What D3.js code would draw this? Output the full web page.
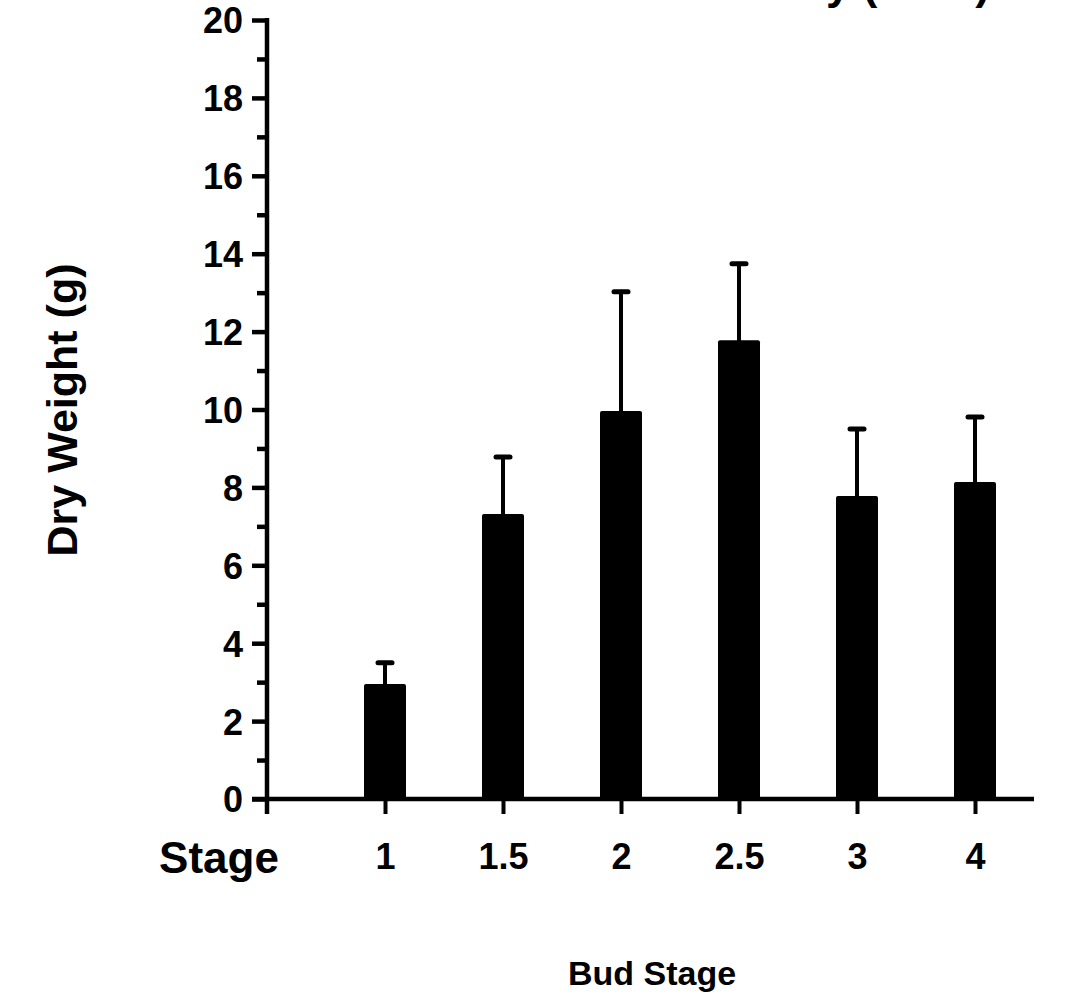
<!DOCTYPE html>
<html>
<head>
<meta charset="utf-8">
<script src="https://cdn.jsdelivr.net/npm/d3@7"></script>
<style>
  body { margin: 0; background: #fff; }
  svg text { font-family: "Liberation Sans", Arial, sans-serif; font-weight: bold; fill: #000; }
</style>
</head>
<body>
<div id="chart"></div>
<script>
// data
const stages = ["1", "1.5", "2", "2.5", "3", "4"];
const dryWeight = [2.95, 7.32, 9.96, 11.78, 7.78, 8.14];
const errUpper = [0.55, 1.46, 3.06, 1.96, 1.72, 1.67];
const yTicks = [0, 2, 4, 6, 8, 10, 12, 14, 16, 18, 20];
const yMinor = [1, 3, 5, 7, 9, 11, 13, 15, 17, 19];

function draw() {
    let width = 1070, height = 992;
    let left = 267, right = 1034, top = 20, bottom = 799;

    let svg = d3.select("#chart")
        .append("svg")
        .attr("width", width)
        .attr("height", height)
        .style("background", "#fff");

    // title is cut off by the top edge, only descenders show
    svg.append("text")
        .attr("x", 990)
        .attr("y", -1)
        .attr("text-anchor", "end")
        .style("font-size", "44px")
        .text("Bud Mass at Maturity (2019)");

    let y = d3.scaleLinear().domain([0, 20]).range([bottom, top]);

    let step = (right - left) / 6.5;
    let x = d3.scalePoint()
        .domain(stages)
        .range([left + step, left + 6 * step]);

    let data = stages.map((s, i) => ({ stage: s, v: dryWeight[i], e: errUpper[i] }));

    // error bars (upper only), drawn under the bars
    let eb = svg.append("g")
        .attr("stroke", "#000")
        .attr("stroke-width", 4)
        .attr("stroke-linecap", "round");
    eb.selectAll(".stem").data(data).enter().append("line")
        .attr("x1", d => x(d.stage)).attr("x2", d => x(d.stage))
        .attr("y1", d => y(d.v)).attr("y2", d => y(d.v + d.e));
    eb.selectAll(".cap").data(data).enter().append("line")
        .attr("stroke-width", 5)
        .attr("x1", d => x(d.stage) - 7).attr("x2", d => x(d.stage) + 7)
        .attr("y1", d => y(d.v + d.e)).attr("y2", d => y(d.v + d.e));

    // bars
    let barW = 42;
    svg.selectAll(".bar").data(data).enter().append("rect")
        .attr("x", d => x(d.stage) - barW / 2)
        .attr("y", d => y(d.v))
        .attr("width", barW)
        .attr("height", d => y(0) - y(d.v))
        .attr("rx", 2)
        .attr("fill", "#000");

    // minor y ticks
    svg.append("g")
        .attr("transform", "translate(" + left + ",0)")
        .call(d3.axisLeft(y).tickValues(yMinor).tickSize(10).tickFormat(""))
        .call(g => g.select(".domain").remove())
        .call(g => g.selectAll("line").attr("stroke-width", 4.5));

    // y axis
    svg.append("g")
        .attr("transform", "translate(" + left + ",0)")
        .call(d3.axisLeft(y).tickValues(yTicks).tickSize(15).tickSizeOuter(0).tickPadding(9))
        .call(g => g.select(".domain").remove())
        .call(g => g.selectAll("line").attr("stroke-width", 4.5))
        .call(g => g.selectAll("text").style("font-size", "36px").attr("dy", "0.36em"));

    svg.append("line")
        .attr("x1", left).attr("x2", left)
        .attr("y1", top - 2).attr("y2", bottom + 15)
        .attr("stroke", "#000").attr("stroke-width", 4.5);

    // x axis
    svg.append("g")
        .attr("transform", "translate(0," + bottom + ")")
        .call(d3.axisBottom(x).tickSize(15).tickSizeOuter(0).tickPadding(29))
        .call(g => g.select(".domain").remove())
        .call(g => g.selectAll("line").attr("stroke-width", 4))
        .call(g => g.selectAll("text").style("font-size", "36px"));

    svg.append("line")
        .attr("x1", left - 15).attr("x2", right)
        .attr("y1", bottom).attr("y2", bottom)
        .attr("stroke", "#000").attr("stroke-width", 4.5);

    // row label
    svg.append("text")
        .attr("x", 219)
        .attr("y", 873)
        .attr("text-anchor", "middle")
        .style("font-size", "44px")
        .text("Stage");

    // axis titles
    svg.append("text")
        .attr("transform", "translate(77,410) rotate(-90)")
        .attr("text-anchor", "middle")
        .style("font-size", "43px")
        .text("Dry Weight (g)");

    svg.append("text")
        .attr("x", 652)
        .attr("y", 985)
        .attr("text-anchor", "middle")
        .style("font-size", "34px")
        .text("Bud Stage");
}

window.onload = () => {
    draw();
}
</script>
</body>
</html>
